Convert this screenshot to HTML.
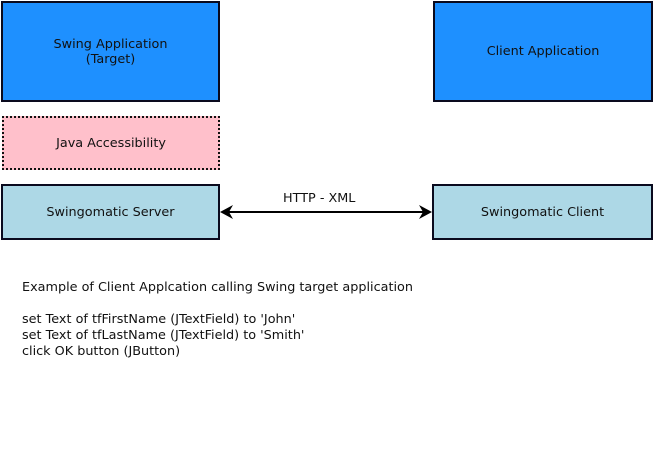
<!DOCTYPE html>
<html><head><style>
body{margin:0;width:655px;height:449px;background:#fff;position:relative;font-family:"DejaVu Sans","Liberation Sans",sans-serif;font-size:12.8px;color:#111;overflow:hidden}
.b{position:absolute;box-sizing:border-box;border:2px solid #0a0a1e;display:flex;align-items:center;justify-content:center;text-align:center;line-height:15px}
.blue{background:#1e90ff}
.lb{background:#add8e6}
.t{position:absolute;white-space:pre;line-height:16px}
</style></head><body>
<div class="b blue" style="left:1px;top:1px;width:219px;height:101px">Swing Application<br>(Target)</div>
<div class="b blue" style="left:433px;top:1px;width:220px;height:101px">Client Application</div>
<div class="b" style="left:2px;top:116px;width:218px;height:54px;background:#ffc0cb;border:2px dotted #111">Java Accessibility</div>
<div class="b lb" style="left:1px;top:184px;width:219px;height:56px">Swingomatic Server</div>
<div class="b lb" style="left:432px;top:184px;width:221px;height:56px">Swingomatic Client</div>
<svg style="position:absolute;left:0;top:0" width="655" height="449">
<line x1="226" y1="212" x2="426" y2="212" stroke="#000" stroke-width="2"/>
<polygon points="220,212 233,205 229,212 233,219" fill="#000"/>
<polygon points="432,212 419,205 423,212 419,219" fill="#000"/>
</svg>
<div class="t" style="left:283px;top:191px">HTTP - XML</div>
<div class="t" style="left:22px;top:280px">Example of Client Applcation calling Swing target application</div>
<div class="t" style="left:22px;top:312px">set Text of tfFirstName (JTextField) to 'John'
set Text of tfLastName (JTextField) to 'Smith'
click OK button (JButton)</div>
</body></html>
